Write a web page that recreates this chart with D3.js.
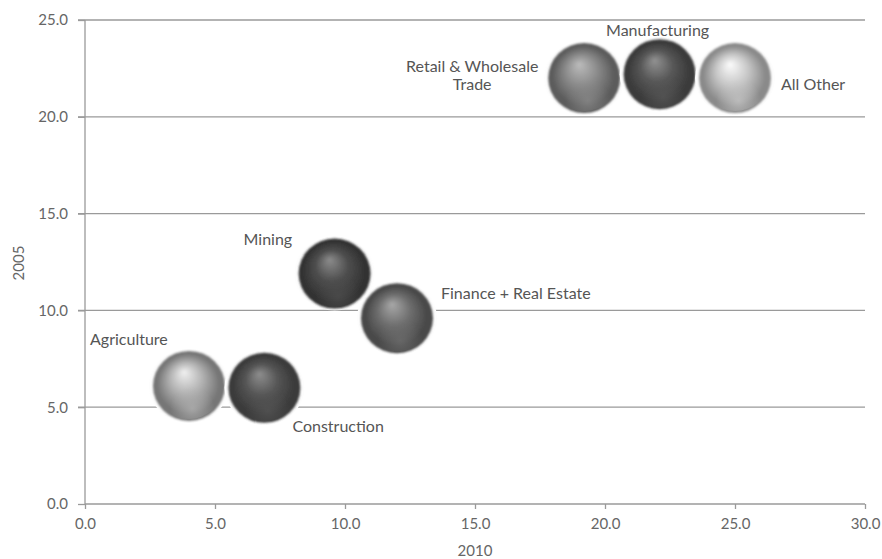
<!DOCTYPE html>
<html>
<head>
<meta charset="utf-8">
<script src="https://cdn.jsdelivr.net/npm/d3@7"></script>
<style>
  html, body { margin: 0; padding: 0; background: #fff; }
  svg { display: block; font-family: Lato, "Open Sans", sans-serif; }
</style>
</head>
<body>
<svg id="chart" width="882" height="559"></svg>
<script>
// Sector positions: share in 2010 (x) against share in 2005 (y)
const sectors = ["Agriculture", "Construction", "Mining", "Finance + Real Estate",
                 "Retail & Wholesale Trade", "Manufacturing", "All Other"];
const share2010 = [4.0, 6.9, 9.6, 12.0, 19.2, 22.1, 25.0];
const share2005 = [6.1, 6.0, 11.9, 9.6, 22.0, 22.2, 22.0];
const xTicks = [0, 5, 10, 15, 20, 25, 30];
const yTicks = [0, 5, 10, 15, 20, 25];

// Sphere shading per sector: [highlight, body, rim]
const shading = {
  "Agriculture":              ["#f0f0f0", "#b2b2b2", "#767676"],
  "Construction":             ["#8e8e8e", "#555555", "#3a3a3a"],
  "Mining":                   ["#8c8c8c", "#4e4e4e", "#333333"],
  "Finance + Real Estate":    ["#a8a8a8", "#6e6e6e", "#484848"],
  "Retail & Wholesale Trade": ["#bcbcbc", "#8a8a8a", "#5c5c5c"],
  "Manufacturing":            ["#929292", "#575757", "#3a3a3a"],
  "All Other":                ["#fcfcfc", "#c6c6c6", "#8a8a8a"]
};

// Label placement relative to each sphere
const labelPlacement = {
  "Agriculture":              { dx: -99, dy: -41, anchor: "start", lines: ["Agriculture"] },
  "Construction":             { dx: 28,  dy: 44,  anchor: "start", lines: ["Construction"] },
  "Mining":                   { dx: -91, dy: -29, anchor: "start", lines: ["Mining"] },
  "Finance + Real Estate":    { dx: 44,  dy: -19, anchor: "start", lines: ["Finance + Real Estate"] },
  "Retail & Wholesale Trade": { dx: -112, dy: -6, anchor: "middle", lines: ["Retail & Wholesale", "Trade"] },
  "Manufacturing":            { dx: -2,  dy: -38, anchor: "middle", lines: ["Manufacturing"] },
  "All Other":                { dx: 46,  dy: 12,  anchor: "start", lines: ["All Other"] }
};

const svg = d3.select("#chart");
const plotLeft = 85, plotRight = 865, plotTop = 20, plotBottom = 504;
const x = d3.scaleLinear().domain([0, 30]).range([plotLeft, plotRight]);
const y = d3.scaleLinear().domain([0, 25]).range([plotBottom, plotTop]);
const rx = 36, ry = 35;
const axisColor = "#9a9a9a";
const tickColor = "#666";
const fmt = d3.format(".1f");

// Gradients for the spheres
const defs = svg.append("defs");
sectors.forEach((s, i) => {
  const [hi, mid, rim] = shading[s];
  const g = defs.append("radialGradient")
    .attr("id", "sphere" + i)
    .attr("cx", "0.5").attr("cy", "0.5").attr("r", "0.5")
    .attr("fx", "0.43").attr("fy", "0.3");
  g.append("stop").attr("offset", "0%").attr("stop-color", hi);
  g.append("stop").attr("offset", "45%").attr("stop-color", mid);
  g.append("stop").attr("offset", "86%").attr("stop-color", rim);
  g.append("stop").attr("offset", "100%").attr("stop-color", rim);

  const b = defs.append("radialGradient")
    .attr("id", "bounce" + i)
    .attr("cx", "0.55").attr("cy", "0.84").attr("r", "0.33");
  b.append("stop").attr("offset", "0%").attr("stop-color", mid).attr("stop-opacity", 0.75);
  b.append("stop").attr("offset", "100%").attr("stop-color", mid).attr("stop-opacity", 0);
});
const soft = defs.append("filter").attr("id", "soft")
  .attr("x", "-20%").attr("y", "-20%").attr("width", "140%").attr("height", "140%");
soft.append("feGaussianBlur").attr("stdDeviation", 0.8);

// Horizontal gridlines with tick stubs on the left
svg.append("g").selectAll("line")
  .data(yTicks.filter(t => t > 0))
  .join("line")
  .attr("x1", plotLeft - 7).attr("x2", plotRight)
  .attr("y1", d => y(d)).attr("y2", d => y(d))
  .attr("stroke", axisColor).attr("stroke-width", 1.3);

// Y axis
const yAxis = d3.axisLeft(y).tickValues(yTicks).tickFormat(fmt).tickSize(7).tickPadding(10);
svg.append("g").attr("transform", `translate(${plotLeft},0)`).call(yAxis)
  .call(g => {
    g.select(".domain").attr("stroke", axisColor).attr("stroke-width", 1.3).attr("d", `M0,${plotTop}V${plotBottom}`);
    g.selectAll(".tick line").attr("stroke", axisColor).attr("stroke-width", 1.3);
    g.selectAll(".tick text").attr("fill", tickColor).attr("font-size", 15).attr("font-family", "Lato, sans-serif");
  });

// X axis
const xAxis = d3.axisBottom(x).tickValues(xTicks).tickFormat(fmt).tickSize(5).tickPadding(9);
svg.append("g").attr("transform", `translate(0,${plotBottom})`).call(xAxis)
  .call(g => {
    g.select(".domain").attr("stroke", axisColor).attr("stroke-width", 1.3).attr("d", `M${plotLeft},0H${plotRight}`);
    g.selectAll(".tick line").attr("stroke", axisColor).attr("stroke-width", 1.3);
    g.selectAll(".tick text").attr("fill", tickColor).attr("font-size", 15).attr("font-family", "Lato, sans-serif");
  });

// Axis titles
svg.append("text")
  .attr("x", 475).attr("y", 556)
  .attr("text-anchor", "middle").attr("fill", tickColor).attr("font-size", 15)
  .text("2010");
svg.append("text")
  .attr("transform", "translate(24,263) rotate(-90)")
  .attr("text-anchor", "middle").attr("fill", tickColor).attr("font-size", 15)
  .text("2005");

// Spheres
const points = sectors.map((s, i) => ({ name: s, i, cx: x(share2010[i]), cy: y(share2005[i]) }));
const nodes = svg.append("g").selectAll("g").data(points).join("g");

nodes.append("ellipse")
  .attr("cx", d => d.cx).attr("cy", d => d.cy).attr("rx", rx + 4).attr("ry", ry + 2)
  .attr("fill", "#fdfdfd");
nodes.append("ellipse")
  .attr("cx", d => d.cx).attr("cy", d => d.cy).attr("rx", rx).attr("ry", ry)
  .attr("fill", d => `url(#sphere${d.i})`).attr("filter", "url(#soft)");
nodes.append("ellipse")
  .attr("cx", d => d.cx).attr("cy", d => d.cy).attr("rx", rx - 2).attr("ry", ry - 2)
  .attr("fill", d => `url(#bounce${d.i})`);

// Sector labels
const labels = svg.append("g").selectAll("text").data(points).join("text")
  .attr("x", d => d.cx + labelPlacement[d.name].dx)
  .attr("y", d => d.cy + labelPlacement[d.name].dy)
  .attr("text-anchor", d => labelPlacement[d.name].anchor)
  .attr("fill", "#555").attr("font-size", 16);
labels.selectAll("tspan")
  .data(d => labelPlacement[d.name].lines.map(t => ({ t, d })))
  .join("tspan")
  .attr("x", p => p.d.cx + labelPlacement[p.d.name].dx)
  .attr("dy", (p, j) => j === 0 ? 0 : 18)
  .text(p => p.t);
</script>
</body>
</html>
